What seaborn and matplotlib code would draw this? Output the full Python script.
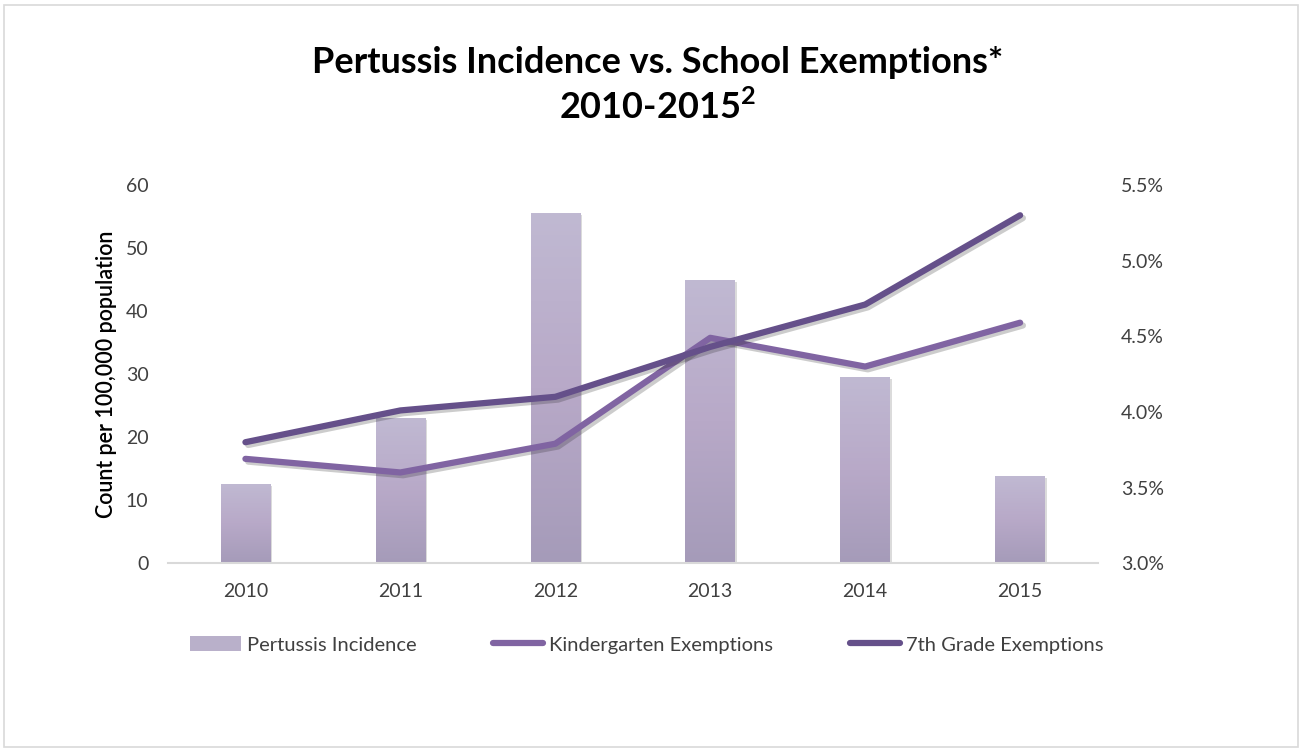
import matplotlib
matplotlib.use("Agg")
import matplotlib.pyplot as plt
import matplotlib.patheffects as pe
from matplotlib.ticker import FuncFormatter, MultipleLocator
from matplotlib.colors import LinearSegmentedColormap
from matplotlib.patches import Rectangle, Patch
from matplotlib.lines import Line2D
import numpy as np
import pandas as pd
import seaborn as sns

years = ["2010", "2011", "2012", "2013", "2014", "2015"]
pertussis = [12.6, 23.0, 55.5, 44.9, 29.5, 13.8]
kindergarten = [3.69, 3.60, 3.79, 4.49, 4.30, 4.59]
seventh = [3.80, 4.01, 4.10, 4.43, 4.71, 5.30]

sns.set_theme(style="white")
FONT = ["Lato", "DejaVu Sans"]
plt.rcParams["font.family"] = FONT

fig = plt.figure(figsize=(13.02, 7.49), dpi=100)
fig.patches.append(Rectangle((0.003, 0.003), 0.994, 0.99, transform=fig.transFigure,
                             fill=False, edgecolor="#d9d9d9", linewidth=1.2))
ax = fig.add_axes([0.129, 0.248, 0.714, 0.505])

df = pd.DataFrame({"year": years, "pertussis": pertussis})
sns.barplot(data=df, x="year", y="pertussis", ax=ax, width=0.32, color="#b8aec8",
            saturation=1, zorder=2)

# gradient fill on bars
cmap = LinearSegmentedColormap.from_list("g", ["#a59bb9", "#b8a9c8", "#c0b9d2"])
grad = np.linspace(0, 1, 256).reshape(-1, 1)
for p in list(ax.patches):
    x0, y0 = p.get_x(), p.get_y()
    w, h = p.get_width(), p.get_height()
    im = ax.imshow(grad, extent=[x0, x0 + w, y0, y0 + h], origin="lower",
                   cmap=cmap, aspect="auto", zorder=2)
    im.set_clip_path(p)
    p.set_facecolor("none")
    p.set_edgecolor("none")
    p.set_path_effects([pe.SimplePatchShadow(offset=(1.5, -1.5), alpha=0.2), pe.Normal()])

ax.set_xlim(-0.5, 5.5)
ax.set_ylim(0, 60)
ax.yaxis.set_major_locator(MultipleLocator(10))
ax.set_xlabel("")
ax.set_ylabel("Count per 100,000 population", fontsize=15.5, fontweight="semibold",
              color="black", labelpad=6)
for s in ["top", "right", "left"]:
    ax.spines[s].set_visible(False)
ax.spines["bottom"].set_color("#d9d9d9")
ax.spines["bottom"].set_linewidth(1.5)
ax.tick_params(axis="y", length=0, labelsize=14, colors="#404040", pad=14)
ax.tick_params(axis="x", length=0, labelsize=14, colors="#404040", pad=14)

ax2 = ax.twinx()
ld = pd.DataFrame({"year": years, "k": kindergarten, "s": seventh})
shadow = [pe.SimpleLineShadow(offset=(2, -2), alpha=0.22), pe.Normal()]
sns.lineplot(data=ld, x="year", y="k", ax=ax2, color="#8064a2", linewidth=4.5,
             sort=False, zorder=3, path_effects=shadow)
sns.lineplot(data=ld, x="year", y="s", ax=ax2, color="#65508a", linewidth=4.5,
             sort=False, zorder=3, path_effects=shadow)
ax2.set_ylim(3.0, 5.5)
ax2.set_xlim(-0.5, 5.5)
ax2.yaxis.set_major_locator(MultipleLocator(0.5))
ax2.yaxis.set_major_formatter(FuncFormatter(lambda v, _: f"{v:.1f}%"))
ax2.set_ylabel("")
ax2.set_xlabel("")
for s in ["top", "right", "left", "bottom"]:
    ax2.spines[s].set_visible(False)
ax2.tick_params(axis="y", length=0, pad=17, colors="#404040", labelsize=14)
ax2.grid(False)
ax.grid(False)

fig.text(0.505, 0.917, "Pertussis Incidence vs. School Exemptions*", ha="center", va="center",
         fontsize=26, fontweight="bold", color="black")
fig.text(0.505, 0.857, r"2010-2015$^{\mathregular{2}}$", ha="center", va="center",
         fontsize=26, fontweight="bold", color="black")

handles = [Patch(facecolor="#b9b0ca", edgecolor="none"),
           Line2D([0], [0], color="#8064a2", linewidth=4.5, solid_capstyle="round"),
           Line2D([0], [0], color="#65508a", linewidth=4.5, solid_capstyle="round")]
labels = ["Pertussis Incidence", "Kindergarten Exemptions", "7th Grade Exemptions"]
leg = fig.legend(handles, labels, loc="center", bbox_to_anchor=(0.497, 0.139), ncol=3,
                 frameon=False, fontsize=14.5, handlelength=2.5, handletextpad=0.3,
                 columnspacing=3.8, handleheight=0.8)
for t in leg.get_texts():
    t.set_color("#404040")

fig.savefig("out.png", dpi=100)
